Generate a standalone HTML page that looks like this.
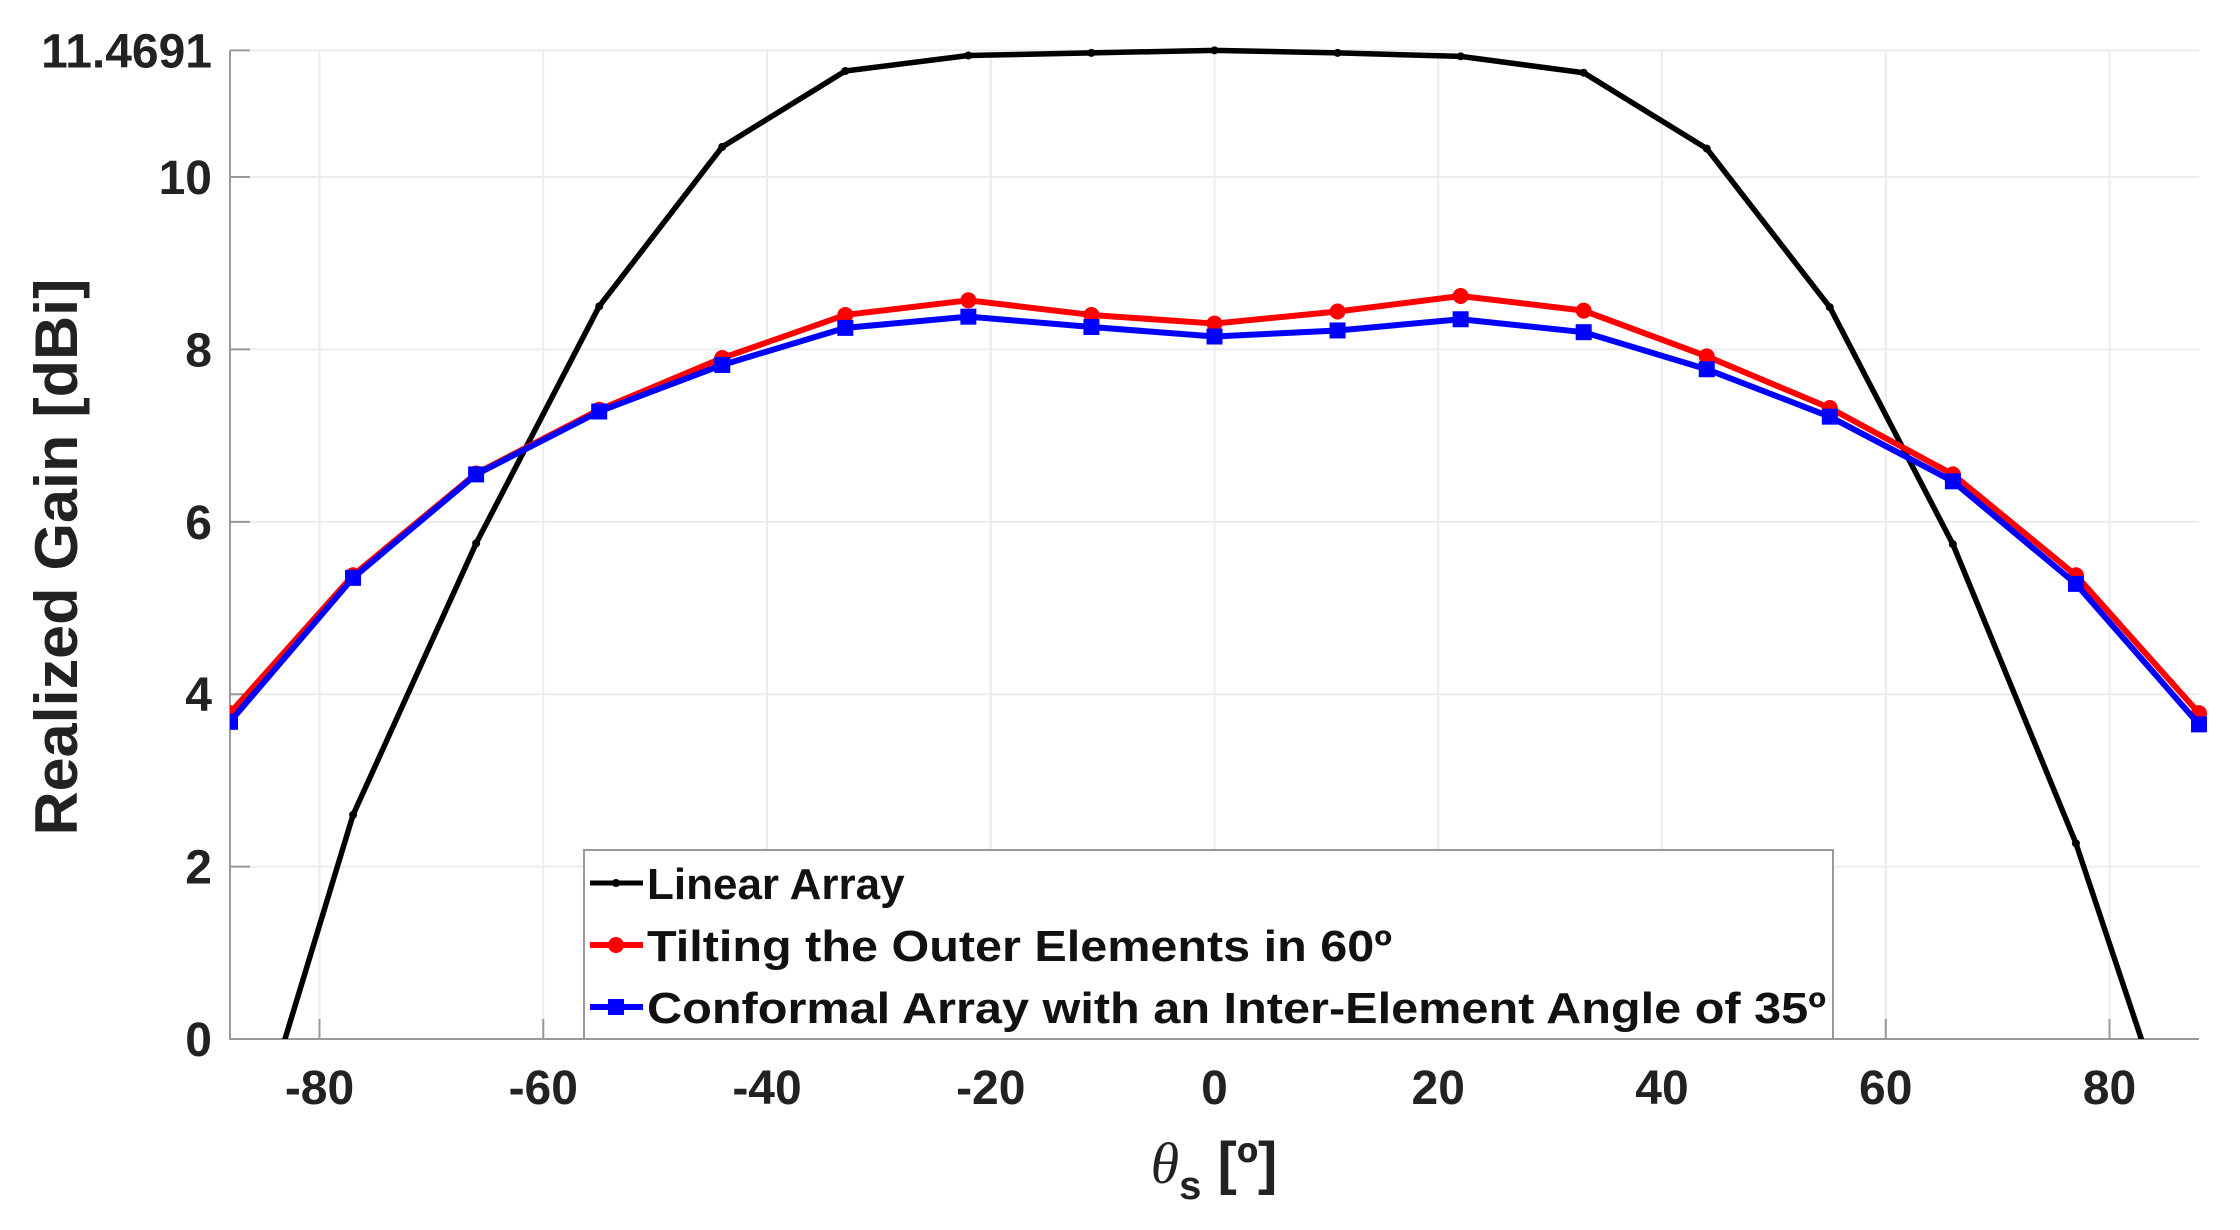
<!DOCTYPE html>
<html><head><meta charset="utf-8"><style>
html,body{margin:0;padding:0;background:#fff;}
svg{display:block;font-family:"Liberation Sans",Arial,sans-serif;font-weight:bold;}
</style></head><body>
<svg id="chart" width="2240" height="1230" viewBox="0 0 2240 1230" xmlns="http://www.w3.org/2000/svg">
<g id="grid"></g>
<g id="axes"></g>
<g id="series"></g>
<text x="0" y="0" font-size="60" fill="#222" text-anchor="middle" textLength="557" lengthAdjust="spacingAndGlyphs" transform="translate(77,557) rotate(-90)">Realized Gain [dBi]</text>
<text x="1214" y="1183" font-size="58" fill="#222" text-anchor="middle"><tspan font-style="italic" font-weight="normal" font-family="Liberation Serif, serif">θ</tspan><tspan font-size="40" dy="16">s</tspan><tspan dy="-16"> [º]</tspan></text>
<g>
<rect x="584" y="850" width="1249" height="189" fill="#fff" stroke="#999" stroke-width="2"/>
<g>
<line x1="590" y1="883" x2="643" y2="883" stroke="#000" stroke-width="5"/><circle cx="616" cy="883" r="4" fill="#000"/>
<text x="647" y="899" font-size="44" fill="#111">Linear Array</text></g>
<g>
<line x1="590" y1="945" x2="643" y2="945" stroke="#f00" stroke-width="6"/><circle cx="616" cy="945" r="8" fill="#f00"/>
<text x="647" y="961" font-size="44" fill="#111" textLength="745" lengthAdjust="spacingAndGlyphs">Tilting the Outer Elements in 60º</text></g>
<g>
<line x1="590" y1="1007" x2="643" y2="1007" stroke="#00f" stroke-width="6"/><rect x="608" y="999" width="16" height="16" fill="#00f"/>
<text x="647" y="1023" font-size="44" fill="#111" textLength="1179" lengthAdjust="spacingAndGlyphs">Conformal Array with an Inter-Element Angle of 35º</text></g>
</g>
</svg>
<script>
const angles=[-88,-77,-66,-55,-44,-33,-22,-11,0,11,22,33,44,55,66,77,88];
const linearGain=[-2.1,2.6,5.75,8.5,10.35,11.23,11.41,11.44,11.47,11.44,11.4,11.21,10.33,8.49,5.74,2.27,-2.0];
const tiltedGain=[3.78,5.38,6.56,7.3,7.9,8.4,8.57,8.4,8.3,8.44,8.62,8.45,7.92,7.32,6.55,5.38,3.78];
const conformalGain=[3.68,5.35,6.55,7.28,7.82,8.25,8.38,8.26,8.15,8.22,8.35,8.2,7.77,7.22,6.47,5.28,3.65];
const xTicks=[-80,-60,-40,-20,0,20,40,60,80];
const yTicks=[0,2,4,6,8,10,11.4691];
const yTickLabels=["0","2","4","6","8","10","11.4691"];

const NS="http://www.w3.org/2000/svg";
const L=230,R=2199,T=50.4,B=1039,XMIN=-88,XMAX=88,YMIN=0,YMAX=11.4691;
const xs=v=>L+(v-XMIN)/(XMAX-XMIN)*(R-L);
const ys=v=>B-(v-YMIN)/(YMAX-YMIN)*(B-T);
function mk(tag,attrs,parent){const e=document.createElementNS(NS,tag);for(const k in attrs)e.setAttribute(k,attrs[k]);parent.appendChild(e);return e;}
const grid=document.getElementById('grid'),axes=document.getElementById('axes'),series=document.getElementById('series');
xTicks.forEach(t=>{
  const g=mk('line',{x1:xs(t),x2:xs(t),y1:T,y2:B,stroke:'#ececec','stroke-width':2},grid);
  
  
  mk('line',{x1:xs(t),x2:xs(t),y1:B,y2:B-20,stroke:'#999','stroke-width':2},axes);
  const tx=mk('text',{x:xs(t),y:1104,'font-size':48,fill:'#222','text-anchor':'middle'},axes);
  tx.textContent=String(t);
  
  
});
yTicks.forEach((t,i)=>{
  const g=mk('line',{x1:L,x2:R,y1:ys(t),y2:ys(t),stroke:'#ececec','stroke-width':2},grid);
  
  
  mk('line',{x1:L,x2:L+20,y1:ys(t),y2:ys(t),stroke:'#999','stroke-width':2},axes);
  const tx=mk('text',{x:212,y:ys(t)+17,'font-size':48,fill:'#222','text-anchor':'end'},axes);
  tx.textContent=yTickLabels[i];
  
  
});
const ax=mk('path',{d:`M${L},${T} L${L},${B} L${R},${B}`,fill:'none',stroke:'#999','stroke-width':2},axes);


const clip=mk('clipPath',{id:'pc'},document.getElementById('chart'));
mk('rect',{x:L,y:T-10,width:R-L+12,height:B-T+10},clip);
function drawSeries(vals,color,w,marker,name){
  const g=mk('g',{'clip-path':'url(#pc)'},series);
  
  
  const pts=angles.map((a,i)=>xs(a)+','+ys(vals[i])).join(' ');
  const pl=mk('polyline',{points:pts,fill:'none',stroke:color,'stroke-width':w,'stroke-linejoin':'round'},g);
  
  
  angles.forEach((a,i)=>{
    let m;
    if(marker==='square') m=mk('rect',{x:xs(a)-8,y:ys(vals[i])-8,width:16,height:16,fill:color},g);
    else m=mk('circle',{cx:xs(a),cy:ys(vals[i]),r:marker==='dot'?4:8,fill:color},g);
    
    
  });
}
drawSeries(linearGain,'#000',5.5,'dot','linear-array-series');
drawSeries(tiltedGain,'#f00',6,'circle','tilted-series');
drawSeries(conformalGain,'#00f',6,'square','conformal-series');
</script>
</body></html>
